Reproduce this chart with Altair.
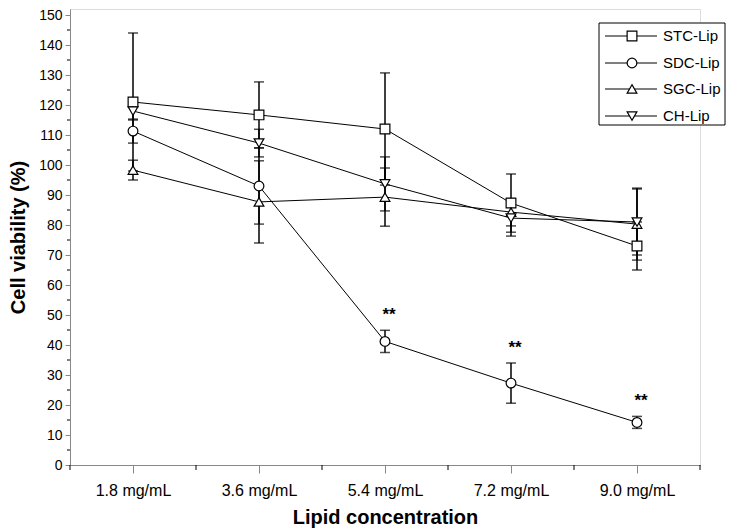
import json
import altair as alt
import pandas as pd

# ---------------- data ----------------
categories = ["1.8 mg/mL", "3.6 mg/mL", "5.4 mg/mL", "7.2 mg/mL", "9.0 mg/mL"]
series = ["STC-Lip", "SDC-Lip", "SGC-Lip", "CH-Lip"]
stc_mean = [121.0, 116.7, 112.0, 87.3, 73.0]
stc_err = [23.0, 11.0, 18.7, 9.7, 8.0]
sdc_mean = [111.3, 93.0, 41.2, 27.3, 14.2]
sdc_err = [4.0, 12.7, 3.7, 6.7, 2.0]
sgc_mean = [98.3, 87.7, 89.3, 84.3, 80.3]
sgc_err = [3.3, 13.7, 9.7, 4.6, 12.0]
ch_mean = [118.0, 107.3, 93.7, 82.3, 81.0]
ch_err = [3.0, 4.6, 9.0, 6.0, 11.0]
star_categories = ["5.4 mg/mL", "7.2 mg/mL", "9.0 mg/mL"]  # ** on SDC-Lip
y_major = list(range(0, 151, 10))
y_minor = list(range(5, 151, 10))
x_minor = [0.5, 1.5, 2.5, 3.5, 4.5, 5.5]
shapes = ["square", "circle", "triangle-up", "triangle-down"]

means = [stc_mean, sdc_mean, sgc_mean, ch_mean]
errs = [stc_err, sdc_err, sgc_err, ch_err]
rows = []
for s, m, e in zip(series, means, errs):
    for i, c in enumerate(categories):
        rows.append({"series": s, "cat": c, "idx": i + 1, "mean": m[i],
                     "lo": m[i] - e[i], "hi": m[i] + e[i]})
df = pd.DataFrame(rows)
stars = df[(df.series == "SDC-Lip") & (df.cat.isin(star_categories))]

FONT = "Liberation Sans"
W, H = 630, 456

label_expr = json.dumps(categories) + "[datum.value - 1]"
x_scale = alt.Scale(domain=[0.5, 5.5], nice=False, zero=False)
y_scale = alt.Scale(domain=[0, 152], nice=False)
x_axis = alt.Axis(values=[1, 2, 3, 4, 5], labelExpr=label_expr, title="Lipid concentration",
                  grid=False, tickSize=8, labelFontSize=16, titleFontSize=20,
                  labelPadding=9, titlePadding=9, titleFontWeight="bold")
y_axis = alt.Axis(values=y_major, title="Cell viability (%)", grid=False, tickSize=5,
                  labelFontSize=14, titleFontSize=20, labelPadding=3, titlePadding=10,
                  titleFontWeight="bold")

X = alt.X("idx:Q", scale=x_scale, axis=x_axis)


def Y(field):
    return alt.Y(field, scale=y_scale, axis=y_axis)


base = alt.Chart(df)

err_rules = base.mark_rule(color="black", strokeWidth=1.5).encode(
    x=X, y=Y("lo:Q"), y2="hi:Q")
cap_hi = base.mark_tick(orient="horizontal", size=10, thickness=1.5, color="black").encode(
    x=X, y=Y("hi:Q"))
cap_lo = base.mark_tick(orient="horizontal", size=10, thickness=1.5, color="black").encode(
    x=X, y=Y("lo:Q"))
lines = base.mark_line(color="black", strokeWidth=1).encode(
    x=X, y=Y("mean:Q"), detail="series:N")
points = base.mark_point(filled=True, fill="white", stroke="black", strokeWidth=1.2,
                         size=95, opacity=1).encode(
    x=X, y=Y("mean:Q"),
    shape=alt.Shape("series:N", scale=alt.Scale(domain=series, range=shapes), legend=None))
star_text = alt.Chart(stars).mark_text(text="**", font=FONT, fontWeight="bold", fontSize=17,
                                       dy=-15, dx=4, color="black").encode(
    x=X, y=Y("hi:Q"))

xminor = alt.Chart(pd.DataFrame({"v": x_minor})).mark_rule(color="black", strokeWidth=1).encode(
    x=alt.X("v:Q", scale=x_scale, axis=x_axis), y=alt.value(H), y2=alt.value(H + 5))
yminor = alt.Chart(pd.DataFrame({"v": y_minor})).mark_rule(color="black", strokeWidth=1).encode(
    y=alt.Y("v:Q", scale=y_scale, axis=y_axis), x=alt.value(0), x2=alt.value(-3))

# ---------------- legend ----------------
leg_layers = []
box = alt.Chart(pd.DataFrame({"a": [0]})).mark_rect(fill="white", stroke="black", strokeWidth=1).encode(
    x=alt.value(529), x2=alt.value(655), y=alt.value(14), y2=alt.value(116))
leg_layers.append(box)
row_y = [27, 54, 80, 107]
for name, shp, ry in zip(series, shapes, row_y):
    d = pd.DataFrame({"name": [name]})
    leg_layers.append(alt.Chart(d).mark_rule(color="black", strokeWidth=1).encode(
        x=alt.value(535), x2=alt.value(587), y=alt.value(ry)))
    leg_layers.append(alt.Chart(d).mark_point(shape=shp, filled=True, fill="white", stroke="black",
                                              strokeWidth=1.2, size=95, opacity=1).encode(
        x=alt.value(562), y=alt.value(ry)))
    leg_layers.append(alt.Chart(d).mark_text(align="left", baseline="middle", font=FONT,
                                             fontSize=15, color="black").encode(
        x=alt.value(593), y=alt.value(ry), text="name:N"))

chart = alt.layer(xminor, yminor, err_rules, cap_hi, cap_lo, lines, points, star_text,
                  *leg_layers).properties(
    width=W, height=H,
    autosize=alt.AutoSizeParams(type="none"),
    padding={"left": 62, "top": 1, "right": 29, "bottom": 65},
).configure_view(stroke=None).configure_axis(
    domainColor="black", tickColor="black", labelColor="black", titleColor="black",
    labelFont=FONT, titleFont=FONT, domainWidth=1, tickWidth=1,
).configure(background="white")

chart.save("out.html", embed_options={"renderer": "svg", "actions": False})
